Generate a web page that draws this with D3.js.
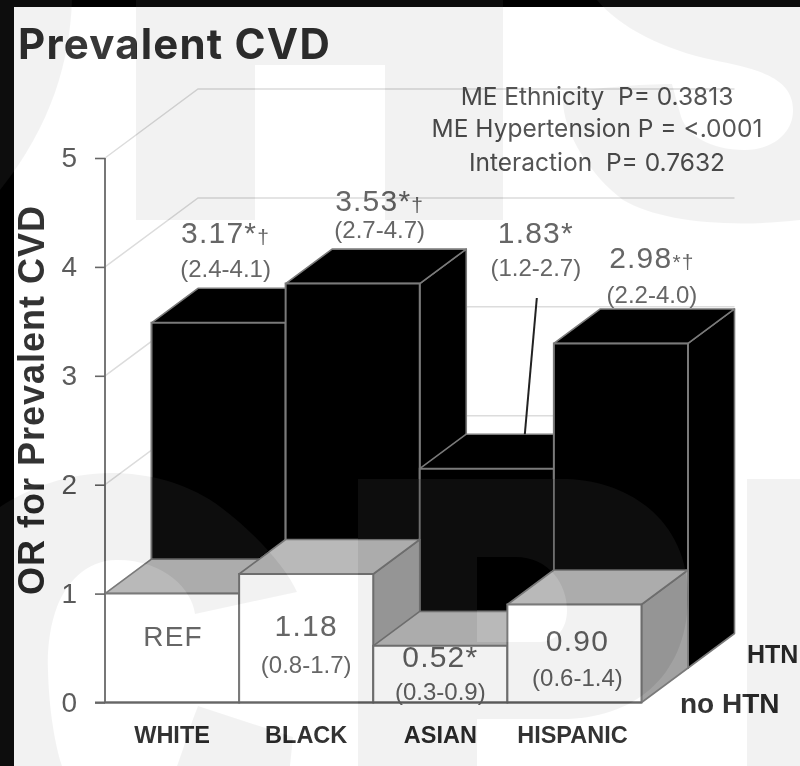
<!DOCTYPE html>
<html><head><meta charset="utf-8">
<script src="https://cdn.jsdelivr.net/npm/d3@7/dist/d3.min.js"></script>
<style>
html,body{margin:0;padding:0;background:#fff;overflow:hidden}
svg{display:block}
text{font-family:"Liberation Sans",Arial,sans-serif}
</style></head><body>
<svg id="c" width="800" height="766"></svg>
<script>
// ---- data ----
const categories = ["WHITE","BLACK","ASIAN","HISPANIC"];
const noHtnValues = [1, 1.18, 0.52, 0.90];
const htnValues = [3.17, 3.53, 1.83, 2.98];
const noHtnLabels = ["REF","1.18","0.52*","0.90"];
const noHtnCI = ["","(0.8-1.7)","(0.3-0.9)","(0.6-1.4)"];
const htnLabels = ["3.17*","3.53*","1.83*","2.98"];
const htnMarks = ["†","†","","*†"];
const htnCI = ["(2.4-4.1)","(2.7-4.7)","(1.2-2.7)","(2.2-4.0)"];
const yTicks = [0,1,2,3,4,5];
const statLines = ["ME Ethnicity  P= 0.3813","ME Hypertension P = <.0001","Interaction  P= 0.7632"];

// ---- layout ----
const W=800,H=766;
const svg=d3.select("#c");
const y=d3.scaleLinear().domain([0,5]).range([702.5,158]);
const x=d3.scaleBand().domain(categories).range([105,641.5]).padding(0);
const DX=46.5,DY=-34.5;
const edge="#7a7a7a";

const chart=svg.append("g").style("filter","blur(0.7px)");

// frame
chart.append("rect").attr("width",W).attr("height",H).attr("fill","#fff");
chart.append("rect").attr("width",14).attr("height",H).attr("fill","#000");
chart.append("rect").attr("width",W).attr("height",7).attr("fill","#000");

// wall gridlines
const wallRight=x.range()[1]+2*DX;
chart.append("g").selectAll("path").data(yTicks.filter(d=>d>0)).join("path")
  .attr("fill","none").attr("stroke","#dcdcdc").attr("stroke-width",1.5)
  .attr("d",d=>d3.line()([[x.range()[0],y(d)],[x.range()[0]+2*DX,y(d)+2*DY],[wallRight,y(d)+2*DY]]));

// a 3D box
function box(g,cat,v,ox,oy,front,top,side){
  const x0=x(cat)+ox,x1=x0+x.bandwidth(),b=y(0)+oy,t=y(v)+oy;
  const poly=pts=>d3.line()(pts)+"Z";
  g.append("path").attr("d",poly([[x1,t],[x1+DX,t+DY],[x1+DX,b+DY],[x1,b]])).attr("fill",side).attr("stroke",edge).attr("stroke-width",1.6).attr("stroke-linejoin","round");
  g.append("path").attr("d",poly([[x0,t],[x0+DX,t+DY],[x1+DX,t+DY],[x1,t]])).attr("fill",top).attr("stroke",edge).attr("stroke-width",1.6).attr("stroke-linejoin","round");
  g.append("path").attr("d",poly([[x0,t],[x1,t],[x1,b],[x0,b]])).attr("fill",front).attr("stroke",edge).attr("stroke-width",2);
}
const back=chart.append("g");
categories.forEach((c,i)=>box(back,c,htnValues[i],DX,DY,"#000","#000","#000"));
const front=chart.append("g");
categories.forEach((c,i)=>box(front,c,noHtnValues[i],0,0,"#fff","#b9b9b9","#a2a2a2"));

// y axis
const axis=chart.append("g").attr("transform",`translate(${x.range()[0]},0)`)
  .call(d3.axisLeft(y).tickValues(yTicks).tickFormat(d3.format("d")).tickSize(10).tickPadding(18));
axis.selectAll("line").attr("stroke","#666").attr("stroke-width",1.6);
axis.select(".domain").attr("stroke","#777").attr("stroke-width",2).attr("d",`M0,${y(5)}V${y(0)}`);
axis.selectAll("text").attr("fill","#5c5c5c").style("font-size","28px").attr("font-family",null).style("font-family",'"Liberation Sans",Arial,sans-serif');

// baseline
chart.append("line").attr("x1",95).attr("x2",x.range()[1]).attr("y1",y(0)).attr("y2",y(0)).attr("stroke","#666").attr("stroke-width",2);

// category labels
chart.append("g").selectAll("text").data(categories).join("text")
  .attr("x",d=>x(d)+x.bandwidth()/2+[0,0,0,-2][categories.indexOf(d)])
  .attr("y",743).attr("text-anchor","middle").attr("font-weight",700).attr("font-size",23.5).attr("fill","#333").text(d=>d);

// value labels: offsets from each bar's centre and the back edge of its top
const htnOffset=[[7,-45,-11],[27,-38,-11],[49,-191,-158],[31,-41,-6]];
const noHtnOffset=[[1,52,0],[0,62,99],[0,21,54],[3,47,82]];
function lab(px,py,txt,size){
  return chart.append("text").attr("x",px).attr("y",py).attr("text-anchor","middle").attr("font-size",size).attr("fill","#666").attr("letter-spacing",size>26?1.2:0).text(txt);
}
categories.forEach((c,i)=>{
  const cx=x(c)+x.bandwidth()/2+DX, top=y(htnValues[i])+2*DY;
  const o=htnOffset[i];
  const t=lab(cx+o[0],top+o[1],htnLabels[i],30);
  if(htnMarks[i]) t.append("tspan").attr("font-size",21).attr("dy",1).text(htnMarks[i]);
  lab(cx+o[0],top+o[2],htnCI[i],24);
  const fx=x(c)+x.bandwidth()/2, ft=y(noHtnValues[i]), f=noHtnOffset[i];
  lab(fx+f[0],ft+f[1],noHtnLabels[i],i===0?28:30);
  if(noHtnCI[i]) lab(fx+f[0],ft+f[2],noHtnCI[i],24);
});

// leader from the Asian label to its bar
const asianX=x("ASIAN")+x.bandwidth()/2+DX;
chart.append("line").attr("x1",asianX+50).attr("y1",298).attr("x2",asianX+38).attr("y2",y(htnValues[2])+2*DY)
  .attr("stroke","#222").attr("stroke-width",2);

// stats
chart.append("g").selectAll("text").data(statLines).join("text")
  .attr("x",597).attr("y",(d,i)=>[105,137,171][i]).attr("text-anchor","middle")
  .attr("font-size",24.5).attr("fill","#555").attr("xml:space","preserve").style("white-space","pre").style("font-family","Inter, sans-serif").text(d=>d);

// title, axis title, depth labels
chart.append("text").attr("x",18).attr("y",59).attr("font-size",42).attr("letter-spacing",1.2).attr("font-weight",700).attr("fill","#383838").style("font-family","Inter, sans-serif").text("Prevalent CVD");
chart.append("text").attr("transform","translate(44,400) rotate(-90)").attr("text-anchor","middle").attr("font-size",36).attr("letter-spacing",1).attr("font-weight",700).attr("fill","#333").text("OR for Prevalent CVD");
chart.append("text").attr("x",747).attr("y",663).attr("font-size",25).attr("font-weight",700).attr("fill","#333").text("HTN");
chart.append("text").attr("x",680).attr("y",713).attr("font-size",28).attr("font-weight",700).attr("fill","#333").text("no HTN");

// faint background overlay of the source image
const wm=svg.append("g").style("mix-blend-mode","difference").attr("fill","#0d0d0d").attr("fill-rule","evenodd");
[
 "M0,0H72C70,60 52,125 0,190Z",
 "M136,0H503V220H385V65H255V220H136Z",
 "M597,0C620,28 665,50 713,60C750,68 793,75 793,110C793,135 770,150 745,150C710,150 685,135 680,113L672,84C640,84 595,88 563,93C560,130 590,175 623,200C660,222 730,228 800,220V0Z",
 "M0,507C30,487 70,473 110,473C150,473 185,483 215,503C250,528 285,565 297,592L195,614C192,590 165,560 117,560C85,560 65,585 57,607C50,625 47,650 48,670C49,710 55,745 62,766H0Z",
 "M198,706L293,737L290,766H177C185,745 190,725 198,706Z",
 "M358,479H567C640,482 690,530 688,600C686,680 630,720 560,719H477V766H358ZM477,557H515C550,557 567,585 567,610C567,630 555,642 540,642H477Z",
 "M747,479H800V766H747Z"
].forEach(d=>wm.append("path").attr("d",d));
</script>
</body></html>
